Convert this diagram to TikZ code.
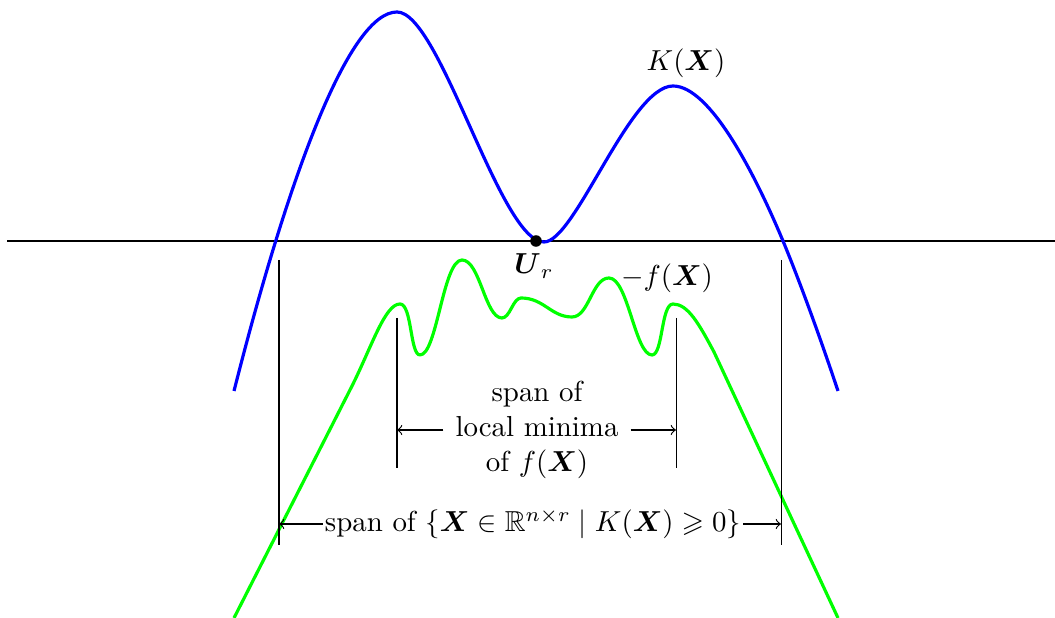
\documentclass[tikz,border=0pt]{standalone}
\usepackage{amsmath,amssymb}
\begin{document}
\begin{tikzpicture}[x=0.346pt,y=-0.346pt,
  curveK/.style={blue,line width=1.1pt},
  curveF/.style={green,line width=1.1pt,line join=round},
  guide/.style={line width=0.35pt},
  spanarrow/.style={line width=0.4pt,->},
  lbl/.style={inner sep=0pt}]
\useasboundingbox (0,0) rectangle (1055,618);
% axis
\coordinate (axL) at (7,241);
\coordinate (axR) at (1055,241);
\draw[line width=0.4pt] (axL) -- (axR);
% K curve
\draw[curveK] (234,391) .. controls (290,170) and (350,12) .. (397,12)
  .. controls (440,12) and (500,242) .. (544,242)
  .. controls (575,242) and (630,86) .. (673,86)
  .. controls (710,86) and (755,174) .. (783,241)
  .. controls (800,282) and (821,340) .. (838,391);
% -f curve
\draw[curveF] (234,618) -- (352,386)
  .. controls (372,346) and (385,304) .. (400,304)
  .. controls (412,304) and (410,355) .. (420,355)
  .. controls (437,355) and (443,260) .. (462,260)
  .. controls (480,260) and (485,318) .. (502,318)
  .. controls (510,318) and (513,298) .. (521,298)
  .. controls (544,298) and (551,317) .. (572,317)
  .. controls (589,317) and (592,278) .. (609,278)
  .. controls (628,278) and (635,355) .. (652,355)
  .. controls (663,355) and (661,304) .. (673,304)
  .. controls (688,304) and (699,324) .. (714,352)
  -- (838,618);
% dot
\node[circle,fill=black,inner sep=0pt,minimum size=4pt] (ur) at (536,241) {};
\node[lbl] (urlab) at (534,266) {$\boldsymbol{U}_r$};
\node[lbl] (flab) at (667,278) {$-f(\boldsymbol{X})$};
\node[lbl] (klab) at (686,63) {$K(\boldsymbol{X})$};
% guide lines
\coordinate (o1t) at (279,260); \coordinate (o1b) at (279,545);
\coordinate (o2t) at (781,260); \coordinate (o2b) at (781,545);
\coordinate (i1t) at (397,318); \coordinate (i1b) at (397,468);
\coordinate (i2t) at (676,318); \coordinate (i2b) at (676,468);
\draw[guide] (o1t) -- (o1b);
\draw[guide] (o2t) -- (o2b);
\draw[guide] (i1t) -- (i1b);
\draw[guide] (i2t) -- (i2b);
% inner span
\node[align=center,inner sep=4pt] (inner) at (537,430) {span of\\local minima\\of $f(\boldsymbol{X})$};
\coordinate (ia) at (397,430); \coordinate (ib) at (676,430);
\draw[spanarrow] (inner.west |- ia) -- (ia);
\draw[spanarrow] (inner.east |- ib) -- (ib);
% outer span
\node[inner sep=0.5pt] (outer) at (533,524) {span of $\{\boldsymbol{X}\in\mathbb{R}^{n\times r}\mid K(\boldsymbol{X})\geqslant 0\}$};
\coordinate (oa) at (279,524); \coordinate (ob) at (781,524);
\draw[spanarrow] (outer.west |- oa) -- (oa);
\draw[spanarrow] (outer.east |- ob) -- (ob);
\end{tikzpicture}
\end{document}
